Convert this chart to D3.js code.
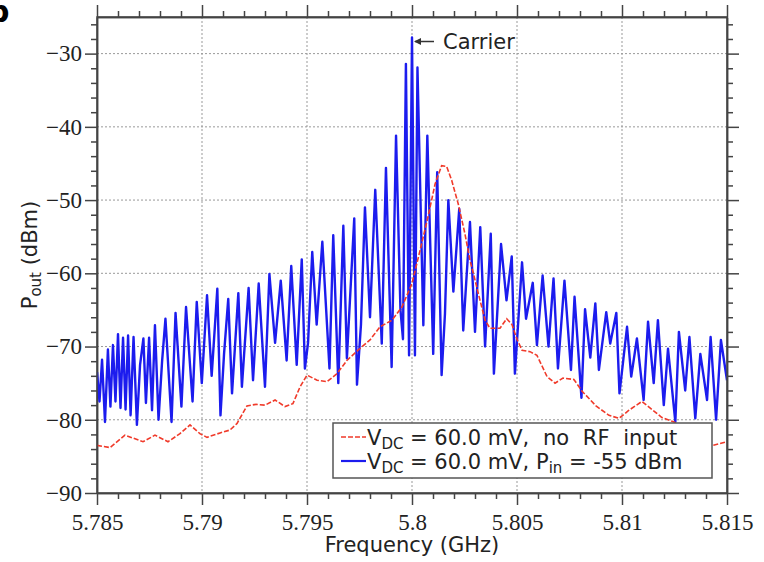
<!DOCTYPE html>
<html>
<head>
<meta charset="utf-8">
<script src="https://cdn.jsdelivr.net/npm/d3@7"></script>
<style>
  html, body { margin: 0; padding: 0; background: #fff; }
  svg { display: block; }
  text { white-space: pre; }
</style>
</head>
<body>
<svg id="chart" width="764" height="562"></svg>
<script>
// ---- data ----
const xTicks = [5.785, 5.79, 5.795, 5.8, 5.805, 5.81, 5.815];
const xTickLabels = ["5.785", "5.79", "5.795", "5.8", "5.805", "5.81", "5.815"];
const yTicks = [-90, -80, -70, -60, -50, -40, -30];
const yTickLabels = ["\u221290", "\u221280", "\u221270", "\u221260", "\u221250", "\u221240", "\u221230"];

// blue: V_DC = 60.0 mV, P_in = -55 dBm
const blueFreq = [5.78500, 5.78512, 5.78524, 5.78538, 5.78552, 5.78564, 5.78576, 5.78588, 5.78600, 5.78612,
  5.78624, 5.78636, 5.78648, 5.78660, 5.78674, 5.78690, 5.78705, 5.78721, 5.78733, 5.78748,
  5.78762, 5.78776, 5.78793, 5.78810, 5.78826, 5.78855, 5.78874, 5.78902, 5.78924, 5.78955,
  5.78975, 5.78999, 5.79024, 5.79046, 5.79073, 5.79088, 5.79105, 5.79125, 5.79143, 5.79173,
  5.79190, 5.79222, 5.79243, 5.79270, 5.79300, 5.79321, 5.79348, 5.79375, 5.79403, 5.79425,
  5.79451, 5.79475, 5.79490, 5.79505, 5.79525, 5.79546, 5.79573, 5.79607, 5.79625, 5.79649,
  5.79673, 5.79690, 5.79725, 5.79738, 5.79757, 5.79776, 5.79800, 5.79825, 5.79856, 5.79876,
  5.79903, 5.79924, 5.79945, 5.79957, 5.79971, 5.79986, 5.80000, 5.80014, 5.80026, 5.80054,
  5.80073, 5.80101, 5.80120, 5.80141, 5.80157, 5.80173, 5.80197, 5.80225, 5.80244, 5.80276,
  5.80300, 5.80325, 5.80348, 5.80375, 5.80390, 5.80424, 5.80450, 5.80475, 5.80490, 5.80524,
  5.80543, 5.80575, 5.80595, 5.80622, 5.80650, 5.80674, 5.80695, 5.80726, 5.80757, 5.80774,
  5.80807, 5.80824, 5.80849, 5.80873, 5.80890, 5.80925, 5.80944, 5.80973, 5.80988, 5.81024,
  5.81044, 5.81071, 5.81103, 5.81124, 5.81151, 5.81171, 5.81199, 5.81219, 5.81254, 5.81271,
  5.81301, 5.81321, 5.81349, 5.81373, 5.81405, 5.81422, 5.81448, 5.81471, 5.81500];
const bluePower = [-73.5, -77.5, -71.8, -80.3, -70.4, -78.2, -69.8, -77.5, -68.3, -78.4,
  -68.8, -78.6, -68.5, -79.4, -68.7, -80.7, -72.5, -68.9, -77.7, -68.8,
  -78.7, -67.1, -80.0, -72.0, -66.2, -80.3, -65.4, -78.2, -64.6, -77.5,
  -63.9, -75.0, -63.0, -74.0, -62.1, -79.4, -71.0, -63.5, -76.4, -62.7,
  -75.5, -62.0, -74.6, -61.4, -75.5, -60.1, -69.5, -61.0, -71.9, -59.0,
  -72.5, -58.1, -73.0, -69.5, -57.1, -67.0, -55.7, -73.0, -54.8, -75.0,
  -53.5, -71.6, -52.5, -75.2, -67.0, -51.0, -66.0, -48.6, -69.6, -45.6,
  -72.8, -41.2, -65.0, -69.0, -31.4, -71.2, -27.8, -71.2, -31.9, -67.1,
  -41.2, -71.0, -46.2, -73.9, -65.5, -50.0, -62.5, -51.2, -67.8, -53.0,
  -68.0, -53.7, -70.0, -54.6, -73.7, -56.0, -63.7, -57.7, -73.7, -58.5,
  -66.2, -61.3, -69.8, -60.3, -70.0, -60.7, -73.0, -61.0, -73.2, -63.2,
  -77.0, -64.9, -71.5, -64.1, -73.2, -65.3, -69.6, -65.4, -76.4, -67.3,
  -74.1, -68.9, -77.3, -66.6, -75.0, -66.4, -78.0, -70.3, -80.3, -68.0,
  -76.0, -68.7, -79.8, -71.0, -77.3, -68.7, -80.0, -69.1, -74.6];

// red: V_DC = 60.0 mV, no RF input
const redFreq = [5.78500, 5.78562, 5.78633, 5.78719, 5.78776, 5.78838, 5.78895, 5.78943, 5.78990, 5.79024,
  5.79086, 5.79133, 5.79167, 5.79214, 5.79257, 5.79300, 5.79348, 5.79395, 5.79433, 5.79467,
  5.79500, 5.79548, 5.79595, 5.79643, 5.79690, 5.79743, 5.79800, 5.79848, 5.79905, 5.79952,
  5.80000, 5.80038, 5.80076, 5.80110, 5.80141, 5.80165, 5.80189, 5.80220, 5.80252, 5.80276,
  5.80292, 5.80324, 5.80348, 5.80371, 5.80419, 5.80451, 5.80476, 5.80500, 5.80524, 5.80562,
  5.80595, 5.80643, 5.80681, 5.80719, 5.80771, 5.80810, 5.80876, 5.80938, 5.80986, 5.81033,
  5.81095, 5.81143, 5.81190, 5.81248, 5.81324, 5.81395, 5.81433, 5.81500];
const redPower = [-83.5, -83.8, -82.1, -83.0, -82.1, -83.0, -81.9, -80.7, -81.9, -82.4,
  -81.8, -81.4, -80.5, -78.1, -77.9, -78.0, -77.3, -78.2, -77.8, -75.5,
  -73.9, -74.6, -74.8, -73.7, -71.9, -70.5, -69.1, -67.3, -66.4, -64.6,
  -61.4, -56.9, -52.3, -47.8, -45.3, -45.4, -47.3, -50.5, -54.6, -58.2,
  -60.0, -63.7, -66.4, -67.5, -67.5, -66.2, -67.0, -69.0, -70.5, -70.7,
  -71.2, -74.1, -75.0, -74.3, -74.5, -76.1, -78.1, -79.4, -79.8, -78.7,
  -77.5, -78.6, -79.7, -80.3, -81.5, -83.0, -83.5, -83.0];

const legendLabels = [
  { main: "V", sub: "DC", rest: " = 60.0 mV,", tail: " no RF input", sub2: null, rest2: null },
  { main: "V", sub: "DC", rest: " = 60.0 mV, P", tail: null, sub2: "in", rest2: " = -55 dBm" }
];
const carrierLabel = "Carrier";

// ---- layout ----
const svg = d3.select("#chart");
const L = 97, R = 727, T = 17, B = 493;
const x = d3.scaleLinear().domain([5.785, 5.815]).range([L, R]);
const y = d3.scaleLinear().domain([-90, -25]).range([B, T]);

const axisColor = "#444";
const sans = "DejaVu Sans, sans-serif";
const serif = "Liberation Serif, Times New Roman, serif";

// grid
const grid = svg.append("g");
grid.selectAll("line.gx").data(xTicks.slice(1, -1)).join("line")
  .attr("x1", d => x(d)).attr("x2", d => x(d)).attr("y1", T).attr("y2", B)
  .attr("stroke", "#999").attr("stroke-width", 1).attr("stroke-dasharray", "2,2");
grid.selectAll("line.gy").data(yTicks.slice(1)).join("line")
  .attr("x1", L).attr("x2", R).attr("y1", d => y(d)).attr("y2", d => y(d))
  .attr("stroke", "#999").attr("stroke-width", 1).attr("stroke-dasharray", "2,2");

// minor tick values
const xMinor = d3.range(5.785, 5.8151, 0.001).map(v => +v.toFixed(4)).filter(v => !xTicks.some(t => Math.abs(t - v) < 1e-6));
const yMinor = d3.range(-90, -24.9, 2).filter(v => v % 10 !== 0);

function styleAxis(g) {
  g.selectAll("path, line").attr("stroke", axisColor).attr("stroke-width", 1.5);
}

// bottom
svg.append("g").attr("transform", `translate(0,${B})`)
  .call(d3.axisBottom(x).tickValues(xMinor).tickSize(6).tickFormat("").tickSizeOuter(0))
  .call(styleAxis);
svg.append("g").attr("transform", `translate(0,${B})`)
  .call(d3.axisBottom(x).tickValues(xTicks).tickSize(12).tickSizeOuter(0).tickPadding(9)
    .tickFormat((d, i) => xTickLabels[i]))
  .call(styleAxis)
  .call(g => g.selectAll("text").attr("font-family", serif).attr("font-size", 23).attr("fill", "#222"));
// top
svg.append("g").attr("transform", `translate(0,${T})`)
  .call(d3.axisTop(x).tickValues(xMinor).tickSize(6).tickFormat("").tickSizeOuter(0))
  .call(styleAxis);
svg.append("g").attr("transform", `translate(0,${T})`)
  .call(d3.axisTop(x).tickValues(xTicks).tickSize(12).tickFormat("").tickSizeOuter(0))
  .call(styleAxis);
// left
svg.append("g").attr("transform", `translate(${L},0)`)
  .call(d3.axisLeft(y).tickValues(yMinor).tickSize(6).tickFormat("").tickSizeOuter(0))
  .call(styleAxis);
svg.append("g").attr("transform", `translate(${L},0)`)
  .call(d3.axisLeft(y).tickValues(yTicks).tickSize(12).tickSizeOuter(0).tickPadding(3)
    .tickFormat((d, i) => yTickLabels[i]))
  .call(styleAxis)
  .call(g => g.selectAll("text").attr("font-family", serif).attr("font-size", 23).attr("fill", "#222"));
// right
svg.append("g").attr("transform", `translate(${R},0)`)
  .call(d3.axisRight(y).tickValues(yMinor).tickSize(6).tickFormat("").tickSizeOuter(0))
  .call(styleAxis);
svg.append("g").attr("transform", `translate(${R},0)`)
  .call(d3.axisRight(y).tickValues(yTicks).tickSize(12).tickFormat("").tickSizeOuter(0))
  .call(styleAxis);

// curves
svg.append("clipPath").attr("id", "plotclip")
  .append("rect").attr("x", L).attr("y", T).attr("width", R - L).attr("height", B - T);
const plot = svg.append("g").attr("clip-path", "url(#plotclip)");

const line = d3.line().x(d => x(d[0])).y(d => y(d[1]));
plot.append("path")
  .datum(blueFreq.map((f, i) => [f, bluePower[i]]))
  .attr("d", line).attr("fill", "none")
  .attr("stroke", "#1c1cee").attr("stroke-width", 2.4).attr("stroke-linejoin", "round");
plot.append("path")
  .datum(redFreq.map((f, i) => [f, redPower[i]]))
  .attr("d", line).attr("fill", "none")
  .attr("stroke", "#f03a2a").attr("stroke-width", 1.6).attr("stroke-dasharray", "5,2");

// frame
svg.append("rect").attr("x", L).attr("y", T).attr("width", R - L).attr("height", B - T)
  .attr("fill", "none").attr("stroke", axisColor).attr("stroke-width", 1.5);

// carrier annotation
const cx = x(5.8), cy = y(-27.8) + 4;
const ann = svg.append("g");
ann.append("line").attr("x1", cx + 22).attr("x2", cx + 3).attr("y1", cy).attr("y2", cy)
  .attr("stroke", "#333").attr("stroke-width", 1.5);
ann.append("path").attr("d", `M${cx + 2},${cy} l7,-3.5 l0,7 z`).attr("fill", "#333");
ann.append("text").attr("x", cx + 31).attr("y", cy + 7).text(carrierLabel)
  .attr("font-family", sans).attr("font-size", 21).attr("fill", "#222");

// legend
const lg = svg.append("g");
lg.append("rect").attr("x", 333).attr("y", 423).attr("width", 379).attr("height", 55)
  .attr("fill", "#fff").attr("stroke", "#555").attr("stroke-width", 1.5);
const rowY = [437, 461];
lg.append("line").attr("x1", 341).attr("x2", 366).attr("y1", rowY[0]).attr("y2", rowY[0])
  .attr("stroke", "#f03a2a").attr("stroke-width", 1.6).attr("stroke-dasharray", "5,2");
lg.append("line").attr("x1", 341).attr("x2", 366).attr("y1", rowY[1]).attr("y2", rowY[1])
  .attr("stroke", "#1c1cee").attr("stroke-width", 2.2);
legendLabels.forEach((lab, i) => {
  const t = lg.append("text").attr("x", 367).attr("y", rowY[i] + 8)
    .attr("font-family", sans).attr("font-size", 21).attr("fill", "#222");
  t.append("tspan").text(lab.main);
  t.append("tspan").attr("dy", 4).attr("font-size", 15).text(lab.sub);
  t.append("tspan").attr("dy", -4).text(lab.rest);
  if (lab.tail) {
    t.append("tspan").attr("word-spacing", 7).text(lab.tail);
  }
  if (lab.sub2) {
    t.append("tspan").attr("dy", 4).attr("font-size", 15).text(lab.sub2);
    t.append("tspan").attr("dy", -4).text(lab.rest2);
  }
});

// axis titles
svg.append("text").attr("x", (L + R) / 2).attr("y", 552).attr("text-anchor", "middle")
  .attr("font-family", sans).attr("font-size", 21).attr("fill", "#222").text("Frequency (GHz)");
const yt = svg.append("text").attr("transform", `translate(37,${(T + B) / 2}) rotate(-90)`)
  .attr("text-anchor", "middle").attr("font-family", sans).attr("font-size", 21).attr("fill", "#222");
yt.append("tspan").text("P");
yt.append("tspan").attr("dy", 4).attr("font-size", 15).text("out");
yt.append("tspan").attr("dy", -4).text(" (dBm)");

// panel letter (cut off at the left edge, as in the reference)
svg.append("text").attr("x", -12).attr("y", 22).attr("font-family", sans)
  .attr("font-weight", "bold").attr("font-size", 30).attr("fill", "#000").text("b");
</script>
</body>
</html>
